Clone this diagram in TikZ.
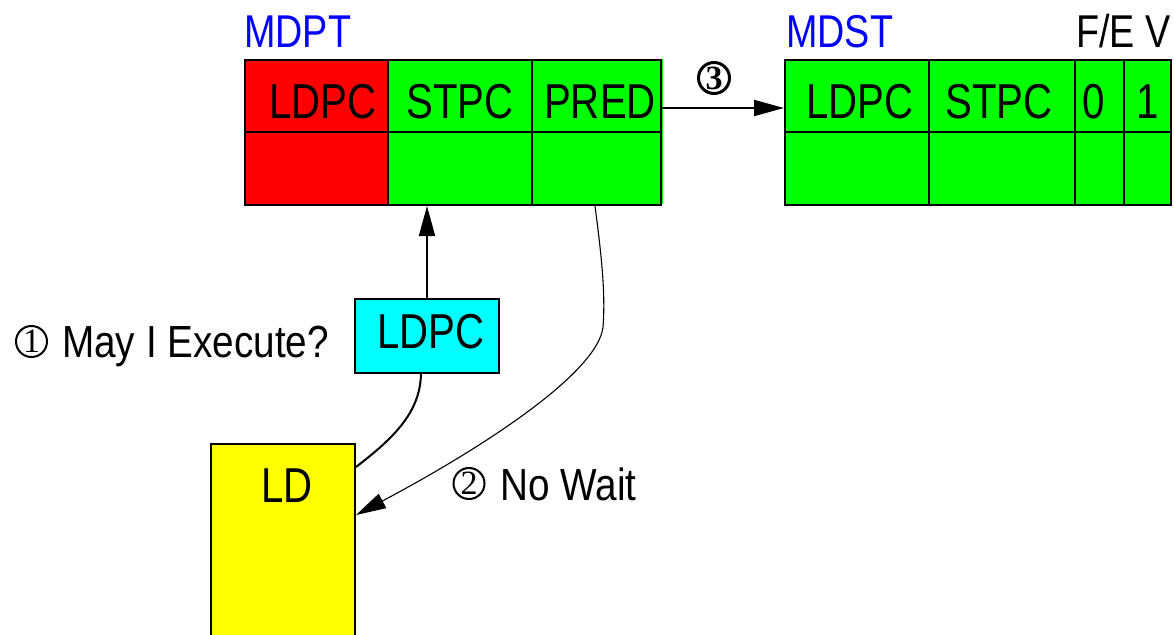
\documentclass[tikz,border=0pt]{standalone}
\usepackage{fontspec}
\setmainfont{Liberation Sans}[FakeStretch=0.82]
\newfontfamily\notefont{Liberation Sans}[FakeStretch=0.86]
\newfontfamily\numfont{Liberation Serif}
\usetikzlibrary{arrows.meta,calc}

\definecolor{cellred}{RGB}{255,0,0}
\definecolor{cellgreen}{RGB}{0,255,0}
\definecolor{tagcyan}{RGB}{0,255,255}
\definecolor{ldyellow}{RGB}{255,255,0}
\definecolor{titleblue}{RGB}{0,0,255}

\begin{document}
\begin{tikzpicture}[x=1pt,y=-1pt,
  cell/.style={draw=black,line width=2pt,minimum height=145pt,inner sep=0pt,anchor=north west},
  box/.style={draw=black,line width=2pt,inner sep=0pt,anchor=north west},
  celltext/.style={font=\fontsize{49}{50}\selectfont,anchor=base,inner sep=0pt},
  title/.style={font=\fontsize{46}{48}\selectfont,anchor=base west,inner sep=0pt},
  note/.style={font=\notefont\fontsize{45}{48}\selectfont,anchor=base west,inner sep=0pt},
  num/.style={circle,draw,line width=2pt,minimum size=31pt,inner sep=0pt,
    font=\numfont\fontsize{34}{34}\selectfont},
  tip/.style={-{Triangle[length=30pt,width=16pt]}},
]
\clip (0,0) rectangle (1174,634);

% MDPT table
\fill[cellgreen] (655,59) rectangle (662.5,204);
\node[cell,fill=cellred,minimum width=143pt] (p1) at (244,59) {};
\node[cell,fill=cellgreen,minimum width=144pt] (p2) at (387,59) {};
\node[cell,fill=cellgreen,minimum width=129pt] (p3) at (531,59) {};
\draw[line width=2pt] (p1.west |- 0,132) -- (p3.east |- 0,132);
\node[celltext] (p1t) at (323,118) {LDPC};
\node[celltext] (p2t) at (460,118) {STPC};
\node[celltext] (p3t) at (600,118) {PRED};
\node[title,text=titleblue] (mdpt) at (244,48) {MDPT};

% MDST table
\node[cell,fill=cellgreen,minimum width=144pt] (s1) at (784,59) {};
\node[cell,fill=cellgreen,minimum width=146pt] (s2) at (928,59) {};
\node[cell,fill=cellgreen,minimum width=49pt] (s3) at (1074,59) {};
\node[cell,fill=cellgreen,minimum width=47pt] (s4) at (1123,59) {};
\draw[line width=2pt] (s1.west |- 0,132) -- (s4.east |- 0,132);
\node[celltext] (s1t) at (860,118) {LDPC};
\node[celltext] (s2t) at (999,118) {STPC};
\node[celltext] (s3t) at (1094,118) {0};
\node[celltext] (s4t) at (1148,118) {1};
\node[title,text=titleblue] (mdst) at (786,48) {MDST};
\node[title] (fev) at (1076,48) {F/E V};

% step 3: copy into MDST
\draw[line width=2pt,tip] (p3.east |- 0,108) -- (s1.west |- 0,108);
\node[num,line width=3pt,font=\numfont\bfseries\fontsize{34}{34}\selectfont] (n3) at (714,78) {3};

% load instruction and its predictor tag
\node[box,fill=tagcyan,minimum width=144pt,minimum height=74pt] (ldpc) at (354,298) {};
\node[celltext] (ldpct) at (431,348) {LDPC};
\node[box,fill=ldyellow,minimum width=144pt,minimum height=260pt] (ld) at (210,443) {};
\node[celltext] (ldt) at (287,502) {LD};

% annotations
\node[num] (n1) at (31.5,341.5) {1};
\node[note] (q1) at (62,357) {May I Execute?};
\node[num] (n2) at (469,483.5) {2};
\node[note] (q2) at (500,500) {No Wait};

% connectors
\draw[line width=2pt,tip] (ldpc.north) -- (ldpc.north |- p2.south);
\coordinate (ldtap) at (ld.east |- 0,467);
\draw[line width=2pt] (ldtap) .. controls (395,437) and (420,412) .. (ldpc.south -| 421,0);
\draw[line width=1.1pt,tip] (p3.south -| 595,0) .. controls (600,245) and (606,290) .. (603,327)
  .. controls (598,372) and (486,446) .. (ld.east |- 0,515);
\end{tikzpicture}
\end{document}
